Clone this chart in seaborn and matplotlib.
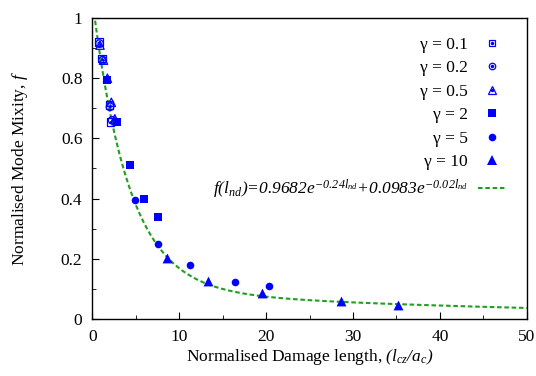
import numpy as np
import matplotlib
matplotlib.use("Agg")
import matplotlib.pyplot as plt
import seaborn as sns

# gamma series: damage length (l_cz/a_c) vs normalised mode mixity
x_g01 = [0.8, 1.15, 2.0, 2.1]
f_g01 = [0.92, 0.865, 0.71, 0.655]
x_g02 = [0.85, 1.2, 2.05, 2.3]
f_g02 = [0.915, 0.86, 0.705, 0.66]
x_g05 = [0.9, 1.3, 1.75, 2.2, 2.6]
f_g05 = [0.91, 0.86, 0.80, 0.72, 0.665]
x_g2 = [1.7, 2.8, 4.3, 6.0, 7.6]
f_g2 = [0.795, 0.655, 0.513, 0.40, 0.337]
x_g5 = [4.9, 7.6, 11.3, 16.4, 20.3]
f_g5 = [0.395, 0.249, 0.179, 0.124, 0.108]
x_g10 = [8.6, 13.3, 19.5, 28.6, 35.2]
f_g10 = [0.203, 0.125, 0.086, 0.06, 0.047]

# fitted curve coefficients (from legend)
a1, b1 = 0.9682, -0.24
a2, b2 = 0.0983, -0.02

sns.set_style("ticks")
plt.rcParams['font.family'] = ['Liberation Serif', 'DejaVu Serif']
plt.rcParams['mathtext.fontset'] = 'custom'
# all math in this chart is italic, digits included
plt.rcParams['mathtext.rm'] = 'Liberation Serif:italic'
plt.rcParams['mathtext.it'] = 'Liberation Serif:italic'
plt.rcParams['mathtext.default'] = 'it'
plt.rcParams['font.size'] = 12.5
plt.rcParams['text.color'] = 'black'
plt.rcParams['xtick.color'] = 'black'
plt.rcParams['ytick.color'] = 'black'
plt.rcParams['axes.labelcolor'] = 'black'

blue = '#0000ff'
green = '#1fa01f'

fig = plt.figure(figsize=(5.36, 3.76), dpi=100)
ax = fig.add_axes([0.172, 0.152, 0.811, 0.8])

handles = []
labels = []


def open_series(x, f, marker, size, label):
    sns.scatterplot(x=x, y=f, marker=marker, s=size, facecolor='none',
                    edgecolor=blue, linewidth=0.9, ax=ax, zorder=3)
    sns.scatterplot(x=x, y=f, marker='o', s=3, color=blue, linewidth=0, ax=ax, zorder=4)
    h1 = plt.Line2D([], [], marker=marker, markersize=np.sqrt(size) * 0.85, markerfacecolor='none',
                    markeredgecolor=blue, markeredgewidth=0.9, linestyle='none')
    h2 = plt.Line2D([], [], marker='o', markersize=1.5, color=blue, linestyle='none')
    handles.append((h1, h2))
    labels.append(label)


def filled_series(x, f, marker, size, label):
    sns.scatterplot(x=x, y=f, marker=marker, s=size, color=blue, linewidth=0, ax=ax, zorder=3)
    handles.append(plt.Line2D([], [], marker=marker, markersize=np.sqrt(size), color=blue,
                              markeredgewidth=0, linestyle='none'))
    labels.append(label)


open_series(x_g01, f_g01, 's', 30, 'γ = 0.1')
open_series(x_g02, f_g02, 'o', 30, 'γ = 0.2')
open_series(x_g05, f_g05, '^', 36, 'γ = 0.5')
filled_series(x_g2, f_g2, 's', 36, 'γ = 2')
filled_series(x_g5, f_g5, 'o', 30, 'γ = 5')
filled_series(x_g10, f_g10, '^', 50, 'γ = 10')

xs = np.linspace(0, 50, 500)
fit = a1 * np.exp(b1 * xs) + a2 * np.exp(b2 * xs)
sns.lineplot(x=xs, y=fit, color=green, linewidth=1.5, linestyle=(0, (2.2, 1.3)), ax=ax, zorder=2)
handles.append(plt.Line2D([], [], color=green, linewidth=1.5, linestyle=(0, (2.2, 1.3))))
labels.append(r'$f(l_{nd})$=0.9682$e^{-0.24l_{nd}}$+0.0983$e^{-0.02l_{nd}}$')

ax.set_xlim(0, 50)
ax.set_ylim(0, 1)
ax.set_xticks([0, 10, 20, 30, 40, 50])
ax.set_xticks([5, 15, 25, 35, 45], minor=True)
ax.set_yticks([0, 0.2, 0.4, 0.6, 0.8, 1])
ax.set_yticklabels(['0', '0.2', '0.4', '0.6', '0.8', '1'])
ax.set_yticks([0.1, 0.3, 0.5, 0.7, 0.9], minor=True)
ax.tick_params(which='both', direction='in', labelsize=12.5, pad=7)
ax.tick_params(which='major', length=5)
ax.tick_params(which='minor', length=3)
for s in ax.spines.values():
    s.set_visible(True)
    s.set_linewidth(1.0)
    s.set_color('black')

ax.set_xlabel(r'Normalised Damage length, $(l_{cz}/a_c)$', fontsize=12.5, labelpad=2)
ax.set_ylabel(r'Normalised Mode Mixity, $f$', fontsize=12.5, labelpad=22)

leg = ax.legend(handles, labels, loc='upper right', bbox_to_anchor=(0.988, 0.99),
                markerfirst=False, frameon=False, fontsize=12.5, handlelength=1.6,
                handletextpad=0.6, labelspacing=0.42)
leg.get_texts()[-1].set_fontstyle('italic')

fig.savefig('out.png', dpi=100)
